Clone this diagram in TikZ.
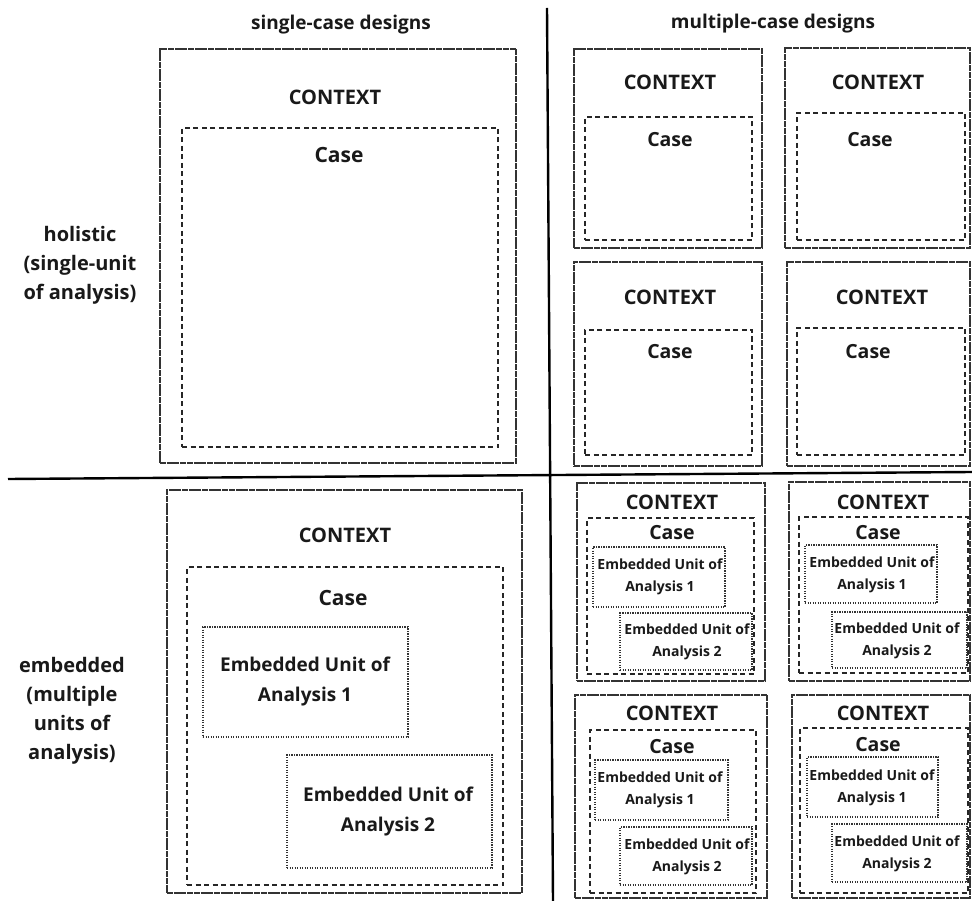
\documentclass[tikz,border=0pt]{standalone}
\usepackage{fontspec}
\setmainfont{Open Sans}
\usetikzlibrary{fit}

\tikzset{
  ctxbox/.style={draw=black!80, line width=1.3pt, dash pattern=on 6pt off 0.7pt, inner sep=0pt},
  casebox/.style={draw=black!85, line width=1.3pt, dash pattern=on 5pt off 3.5pt, inner sep=0pt},
  unitbox/.style={draw=black!80, line width=1.1pt, dash pattern=on 1.2pt off 1.3pt, inner sep=0pt},
  divider/.style={draw=black, line width=2.4pt},
  hdr/.style={text=black!90, font=\fontsize{19}{23}\selectfont\bfseries, inner sep=0pt},
  side/.style={text=black!90, font=\fontsize{20}{29}\selectfont\bfseries, align=center, inner sep=0pt},
  ctxtxt/.style={text=black!90, font=\fontsize{20}{24}\selectfont\bfseries, inner sep=0pt},
  casetxt/.style={text=black!90, font=\fontsize{21}{25}\selectfont\bfseries, inner sep=0pt},
  smcase/.style={text=black!90, font=\fontsize{19.5}{23}\selectfont\bfseries, inner sep=0pt},
  bigunit/.style={text=black!90, font=\fontsize{19}{30}\selectfont\bfseries, align=center, inner sep=0pt},
  smunit/.style={text=black!90, font=\fontsize{14}{22}\selectfont\bfseries, align=center, inner sep=0pt},
}

% box node spanning two corners: \bx{name}{style}{x1}{y1}{x2}{y2}
\newcommand{\bx}[6]{%
  \coordinate (#1-a) at (#3,#4);
  \coordinate (#1-b) at (#5,#6);
  \node[#2, fit={(#1-a) (#1-b)}] (#1) {};
}

\begin{document}
\begin{tikzpicture}[x=1pt,y=-1pt]
\useasboundingbox (0,0) rectangle (972,901);
\fill[white] (0,0) rectangle (972,901);

% column headers
\node[hdr] (h1) at (341,25) {single-case designs};
\node[hdr] (h2) at (773,24) {multiple-case designs};

% row labels
\node[side] (r1) at (80,265) {holistic\\(single-unit\\of analysis)};
\node[side] (r2) at (72,711) {embedded\\(multiple\\units of\\analysis)};

% dividers
\coordinate (vtop) at (547,8);
\coordinate (vbot) at (553,901);
\coordinate (hl) at (8,479);
\coordinate (hr) at (972,472);
\draw[divider] (vtop) -- (vbot);
\draw[divider] (hl) -- (hr);

% ---- holistic, single case
\bx{tl}{ctxbox}{160}{49}{516}{463}
\bx{tlc}{casebox}{182}{128}{498}{447}
\node[ctxtxt] (tlt) at (335,97) {CONTEXT};
\node[casetxt] (tlct) at (339,155) {Case};

% ---- holistic, multiple cases
\bx{m1}{ctxbox}{574}{49}{762}{248}
\bx{m1c}{casebox}{585}{117}{752}{240}
\node[ctxtxt] (m1t) at (670,82) {CONTEXT};
\node[smcase] (m1ct) at (670,140) {Case};

\bx{m2}{ctxbox}{785}{48}{970}{248}
\bx{m2c}{casebox}{797}{113}{965}{240}
\node[ctxtxt] (m2t) at (878,82) {CONTEXT};
\node[smcase] (m2ct) at (870,140) {Case};

\bx{m3}{ctxbox}{574}{262}{762}{466}
\bx{m3c}{casebox}{585}{330}{752}{455}
\node[ctxtxt] (m3t) at (670,297) {CONTEXT};
\node[smcase] (m3ct) at (670,352) {Case};

\bx{m4}{ctxbox}{787}{262}{970}{466}
\bx{m4c}{casebox}{797}{328}{965}{455}
\node[ctxtxt] (m4t) at (882,297) {CONTEXT};
\node[smcase] (m4ct) at (868,352) {Case};

% ---- embedded, single case
\bx{bl}{ctxbox}{167}{490}{522}{893}
\bx{blc}{casebox}{187}{567}{503}{885}
\bx{blu1}{unitbox}{203}{627}{408}{737}
\bx{blu2}{unitbox}{287}{755}{492}{868}
\node[ctxtxt] (blt) at (345,535) {CONTEXT};
\node[casetxt] (blct) at (343,598) {Case};
\node[bigunit] (blu1t) at (305,682) {Embedded Unit of\\Analysis 1};
\node[bigunit] (blu2t) at (388,812) {Embedded Unit of\\Analysis 2};

% ---- embedded, multiple cases
\bx{e1}{ctxbox}{577}{483}{765}{681}
\bx{e1c}{casebox}{587}{518}{754}{674}
\bx{e1u1}{unitbox}{593}{547}{725}{607}
\bx{e1u2}{unitbox}{620}{613}{752}{670}
\node[ctxtxt] (e1t) at (672,502) {CONTEXT};
\node[smcase] (e1ct) at (672,533) {Case};
\node[smunit] (e1u1t) at (660,577) {Embedded Unit of\\Analysis 1};
\node[smunit] (e1u2t) at (687,642) {Embedded Unit of\\Analysis 2};

\bx{e2}{ctxbox}{789}{482}{970}{681}
\bx{e2c}{casebox}{799}{517}{968}{673}
\bx{e2u1}{unitbox}{805}{545}{937}{603}
\bx{e2u2}{unitbox}{832}{612}{967}{668}
\node[ctxtxt] (e2t) at (883,502) {CONTEXT};
\node[smcase] (e2ct) at (878,533) {Case};
\node[smunit] (e2u1t) at (872,575) {Embedded Unit of\\Analysis 1};
\node[smunit] (e2u2t) at (897,641) {Embedded Unit of\\Analysis 2};

\bx{e3}{ctxbox}{575}{695}{767}{898}
\bx{e3c}{casebox}{590}{730}{756}{893}
\bx{e3u1}{unitbox}{595}{760}{728}{820}
\bx{e3u2}{unitbox}{620}{827}{752}{885}
\node[ctxtxt] (e3t) at (672,713) {CONTEXT};
\node[smcase] (e3ct) at (672,747) {Case};
\node[smunit] (e3u1t) at (660,790) {Embedded Unit of\\Analysis 1};
\node[smunit] (e3u2t) at (687,857) {Embedded Unit of\\Analysis 2};

\bx{e4}{ctxbox}{792}{695}{970}{898}
\bx{e4c}{casebox}{800}{728}{968}{893}
\bx{e4u1}{unitbox}{807}{757}{938}{817}
\bx{e4u2}{unitbox}{832}{824}{967}{882}
\node[ctxtxt] (e4t) at (883,713) {CONTEXT};
\node[smcase] (e4ct) at (878,745) {Case};
\node[smunit] (e4u1t) at (872,788) {Embedded Unit of\\Analysis 1};
\node[smunit] (e4u2t) at (897,854) {Embedded Unit of\\Analysis 2};
\end{tikzpicture}
\end{document}
